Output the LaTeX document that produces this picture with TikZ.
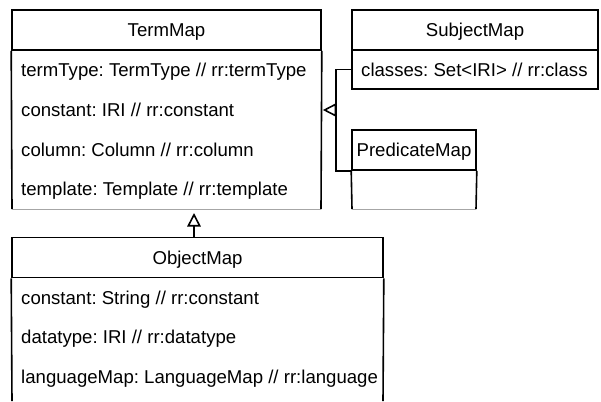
\documentclass[tikz,border=0pt]{standalone}
\usepackage{fontspec}
\setmainfont{Liberation Sans}
\usetikzlibrary{arrows.meta}
\frenchspacing

\begin{document}
\begin{tikzpicture}[x=1pt,y=-1pt,font=\fontsize{18.6}{22}\selectfont,
        umlline/.style={line width=1.6pt},
        footline/.style={line width=0.6pt,gray!70},
        classhead/.style={draw,umlline,inner sep=0pt,minimum height=40pt,text height=13pt,text depth=0pt},
        attr/.style={anchor=base west,inner sep=0pt},
        inherit/.style={umlline,-{Triangle[open,length=13.5pt,width=13.5pt,line width=1.6pt]}}]
        \useasboundingbox (0,0) rectangle (601,401);
        % TermMap
        \node[classhead,minimum width=309pt] (termmap) at (166.5,30) {TermMap};
        \draw[umlline] (termmap.south west) -- (12,209);
        \draw[umlline] (termmap.south east) -- (321,209);
        \draw[footline] (12,209) -- (321,209);
        \node[attr] (tmtype) at (21,77) {termType: TermType // rr:termType};
        \node[attr] (tmconst) at (21,116.5) {constant: IRI // rr:constant};
        \node[attr] (tmcol) at (21,156) {column: Column // rr:column};
        \node[attr] (tmtempl) at (21,195.5) {template: Template // rr:template};
        \coordinate (tmfoot) at (194,209);
        % SubjectMap
        \node[classhead,minimum width=246pt] (subjectmap) at (475,30) {SubjectMap};
        \node[draw,umlline,inner sep=0pt,minimum width=246pt,minimum height=39pt] (subjbody) at (475,69.5) {};
        \node[attr] (subjclasses) at (361,77) {classes: Set<IRI> // rr:class};
        % PredicateMap
        \node[classhead,minimum width=124pt] (predicatemap) at (414,150) {PredicateMap};
        \draw[umlline] (predicatemap.south west) -- (352,209);
        \draw[umlline] (predicatemap.south east) -- (476,209);
        \draw[footline] (352,209) -- (476,209);
        % ObjectMap
        \node[classhead,minimum width=371pt] (objectmap) at (197.5,257.5) {ObjectMap};
        \draw[umlline] (objectmap.south west) -- (12,401);
        \draw[umlline] (objectmap.south east) -- (383,401);
        \node[attr] (omconst) at (21,304) {constant: String // rr:constant};
        \node[attr] (omtype) at (21,343.5) {datatype: IRI // rr:datatype};
        \node[attr] (omlang) at (21,383) {languageMap: LanguageMap // rr:language};
        % inheritance
        \coordinate (join) at (336,110);
        \draw[umlline] (subjbody.west) -| (join) |- (predicatemap.south west);
        \draw[inherit,shorten >=1pt] (join) -- (termmap.east |- join);
        \draw[inherit,shorten >=4pt] (objectmap.north -| tmfoot) -- (tmfoot);
\end{tikzpicture}
\end{document}
